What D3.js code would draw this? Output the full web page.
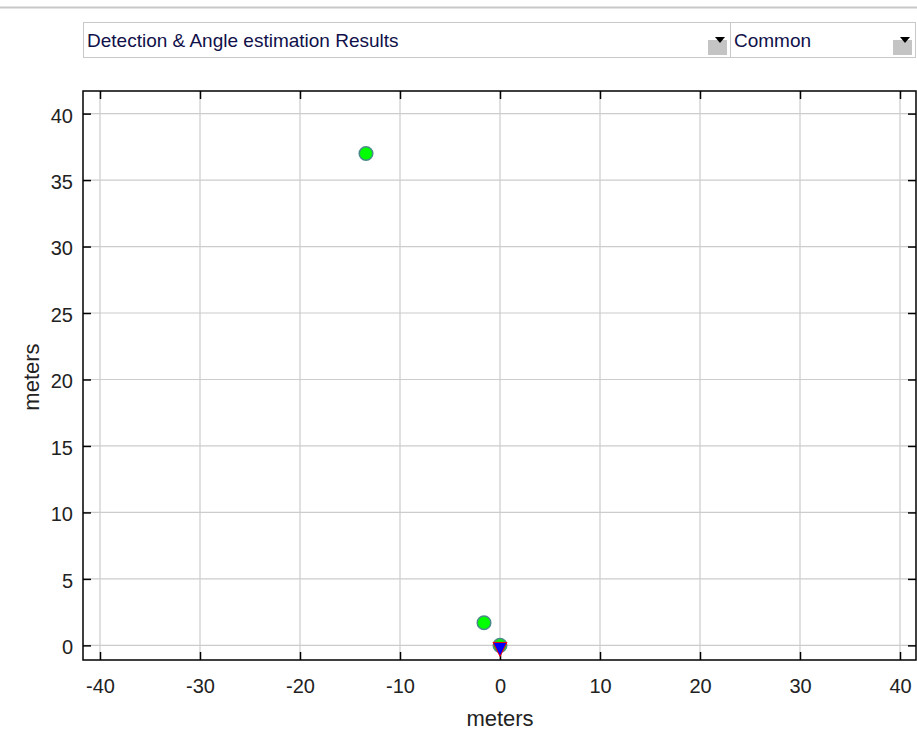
<!DOCTYPE html>
<html lang="en">
<head>
    <meta charset="UTF-8">
    <title>Detection & Angle estimation Results</title>
    <script src="https://d3js.org/d3.v7.min.js"></script>
    <style>
        body { margin: 0; background: #fff; font-family: "Liberation Sans", Arial, sans-serif; }
        svg { display: block; }
        .tick-label { font-size: 20px; fill: #222; }
        .axis-label { font-size: 22px; fill: #222; }
        .menu-text { font-size: 19px; fill: #10104a; }
    </style>
</head>
<body>
    <svg width="917" height="731"></svg>
    <script>
        // Data
        const xTicks = [-40, -30, -20, -10, 0, 10, 20, 30, 40];
        const yTicks = [0, 5, 10, 15, 20, 25, 30, 35, 40];
        const detX = [-13.4, -1.6, 0];
        const detY = [37.0, 1.7, 0];
        const sensorX = [0];
        const sensorY = [0];
        const menus = ["Detection & Angle estimation Results", "Common"];

        const svg = d3.select("svg");

        // top rule
        svg.append("line")
           .attr("x1", 0).attr("x2", 917).attr("y1", 7.5).attr("y2", 7.5)
           .attr("stroke", "#c8c8c8").attr("stroke-width", 2);

        // dropdown menus
        const menuBoxes = [{x: 83, w: 647}, {x: 730, w: 185}];
        menuBoxes.forEach((b, i) => {
            const g = svg.append("g").attr("transform", `translate(${b.x},22)`);
            g.append("rect").attr("x", 0.5).attr("y", 0.5).attr("width", b.w).attr("height", 35)
             .attr("fill", "#fff").attr("stroke", "#c8c8c8");
            g.append("text").attr("class", "menu-text").attr("x", 4).attr("y", 25).text(menus[i]);
            g.append("rect").attr("x", b.w - 22).attr("y", 18).attr("width", 19).attr("height", 15)
             .attr("fill", "#c4c4c4");
            g.append("path").attr("d", `M${b.w - 15},15 L${b.w - 5},15 L${b.w - 10},21 Z`).attr("fill", "#000");
        });

        // plot area
        const plot = {left: 83, top: 91, right: 916, bottom: 660};
        const x = d3.scaleLinear().domain([-41.7, 41.6]).range([plot.left, plot.right]);
        const y = d3.scaleLinear().domain([-1.1, 41.7]).range([plot.bottom, plot.top]);

        // grid
        svg.append("g").selectAll("line").data(xTicks).join("line")
           .attr("x1", d => x(d)).attr("x2", d => x(d))
           .attr("y1", plot.top).attr("y2", plot.bottom)
           .attr("stroke", "#cccccc").attr("stroke-width", 1.2);
        svg.append("g").selectAll("line").data(yTicks).join("line")
           .attr("y1", d => y(d)).attr("y2", d => y(d))
           .attr("x1", plot.left).attr("x2", plot.right)
           .attr("stroke", "#cccccc").attr("stroke-width", 1.2);

        // axes with inward ticks
        const tickLen = 8;
        const fmt = d => String(d);
        const axB = svg.append("g").attr("transform", `translate(0,${plot.bottom})`)
           .call(d3.axisBottom(x).tickValues(xTicks).tickSize(-tickLen).tickPadding(19).tickFormat(fmt));
        const axT = svg.append("g").attr("transform", `translate(0,${plot.top})`)
           .call(d3.axisTop(x).tickValues(xTicks).tickSize(-tickLen).tickFormat(""));
        const axL = svg.append("g").attr("transform", `translate(${plot.left},0)`)
           .call(d3.axisLeft(y).tickValues(yTicks).tickSize(-tickLen).tickPadding(10).tickFormat(fmt));
        const axR = svg.append("g").attr("transform", `translate(${plot.right},0)`)
           .call(d3.axisRight(y).tickValues(yTicks).tickSize(-tickLen).tickFormat(""));
        [axB, axT, axL, axR].forEach(a => {
            a.select(".domain").remove();
            a.selectAll(".tick line").attr("stroke", "#000").attr("stroke-width", 1.5);
            a.selectAll(".tick text").attr("class", "tick-label").attr("font-size", null).attr("font-family", null);
        });
        axL.selectAll(".tick text").attr("dy", "0.42em");

        svg.append("rect")
           .attr("x", plot.left).attr("y", plot.top)
           .attr("width", plot.right - plot.left).attr("height", plot.bottom - plot.top)
           .attr("fill", "none").attr("stroke", "#000").attr("stroke-width", 1.5);

        // axis labels
        svg.append("text").attr("class", "axis-label")
           .attr("x", x(0)).attr("y", 726).attr("text-anchor", "middle").text("meters");
        svg.append("text").attr("class", "axis-label")
           .attr("transform", `translate(39,377) rotate(-90)`)
           .attr("text-anchor", "middle").text("meters");

        // detections
        const det = detX.map((d, i) => ({x: d, y: detY[i]}));
        svg.append("g").selectAll("circle").data(det).join("circle")
           .attr("cx", d => x(d.x)).attr("cy", d => y(d.y)).attr("r", 6.8)
           .attr("fill", "#00ff00").attr("stroke", "#4a8a8a").attr("stroke-width", 1.5);

        // sensor marker (down triangle)
        const sensor = sensorX.map((d, i) => ({x: d, y: sensorY[i]}));
        svg.append("g").selectAll("path").data(sensor).join("path")
           .attr("d", "M-7,-3 L7,-3 L0,11 Z")
           .attr("transform", d => `translate(${x(d.x)},${y(d.y)})`)
           .attr("fill", "#0000ff").attr("stroke", "#ff0000").attr("stroke-width", 1)
           .attr("stroke-linejoin", "round");
    </script>
</body>
</html>
